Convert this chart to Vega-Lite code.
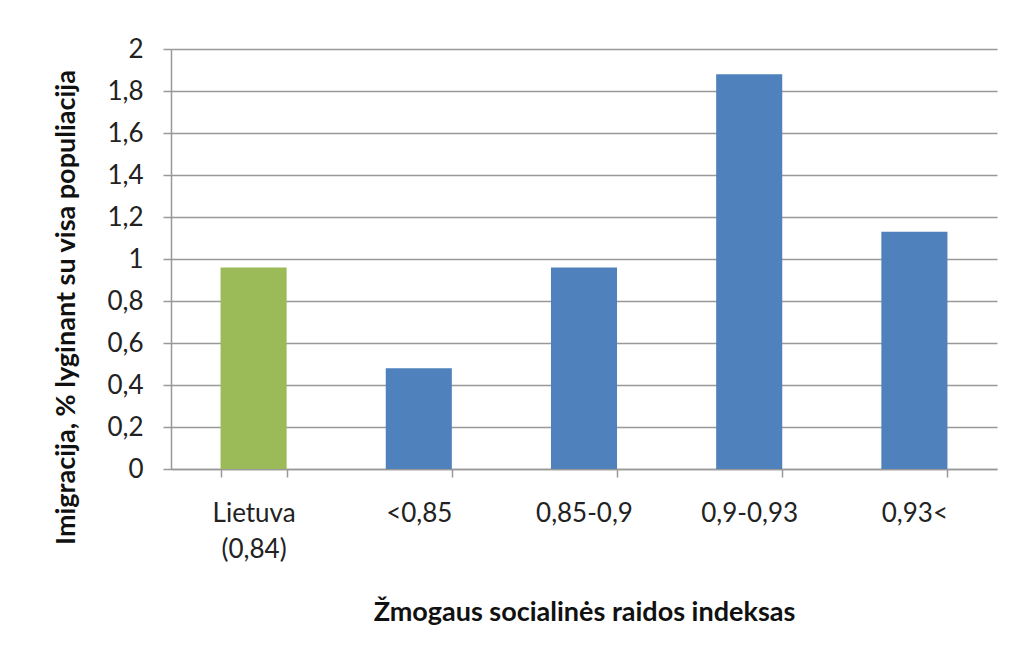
{
  "$schema": "https://vega.github.io/schema/vega-lite/v6.json",
  "width": 826,
  "height": 420,
  "autosize": "none",
  "padding": {"left": 171, "top": 49, "right": 18, "bottom": 189},
  "background": "white",
  "data": {
    "values": [
      {"category": "Lietuva (0,84)", "value": 0.96, "group": "Lietuva"},
      {"category": "<0,85", "value": 0.48, "group": "Kitos"},
      {"category": "0,85-0,9", "value": 0.96, "group": "Kitos"},
      {"category": "0,9-0,93", "value": 1.88, "group": "Kitos"},
      {"category": "0,93<", "value": 1.13, "group": "Kitos"}
    ]
  },
  "mark": {"type": "bar"},
  "encoding": {
    "x": {
      "field": "category",
      "type": "nominal",
      "sort": null,
      "scale": {"paddingInner": 0.6, "paddingOuter": 0.3},
      "axis": {
        "title": "Žmogaus socialinės raidos indeksas",
        "labelAngle": 0,
        "tickBand": "extent",
        "tickSize": 8,
        "labelPadding": 23,
        "labelLineHeight": 36,
        "labelExpr": "datum.value == 'Lietuva (0,84)' ? ['Lietuva', '(0,84)'] : datum.label",
        "titleY": 151,
        "titleBaseline": "alphabetic"
      }
    },
    "y": {
      "field": "value",
      "type": "quantitative",
      "scale": {"domain": [0, 2], "nice": false},
      "axis": {
        "title": "Imigracija, % lyginant su visa populiacija",
        "values": [0, 0.2, 0.4, 0.6, 0.8, 1, 1.2, 1.4, 1.6, 1.8, 2],
        "labelExpr": "replace(format(datum.value, '.1~f'), '.', ',')",
        "tickSize": 8,
        "labelPadding": 20,
        "titleX": -97,
        "titleY": 258,
        "titleAngle": -90,
        "titleAlign": "center",
        "titleBaseline": "alphabetic"
      }
    },
    "color": {
      "field": "group",
      "type": "nominal",
      "scale": {"domain": ["Lietuva", "Kitos"], "range": ["#9BBB59", "#4F81BD"]},
      "legend": null
    }
  },
  "config": {
    "font": "Lato",
    "view": {"stroke": null},
    "axis": {
      "labelFont": "Lato",
      "labelFontSize": 26,
      "labelColor": "#222222",
      "titleFont": "Lato",
      "titleFontSize": 27,
      "titleFontWeight": "bold",
      "titleColor": "#111111",
      "domainColor": "#999999",
      "domainWidth": 1.5,
      "tickColor": "#999999",
      "tickWidth": 1.5,
      "gridColor": "#999999",
      "gridWidth": 1.3
    },
    "axisX": {"grid": false},
    "axisY": {"grid": true}
  }
}
